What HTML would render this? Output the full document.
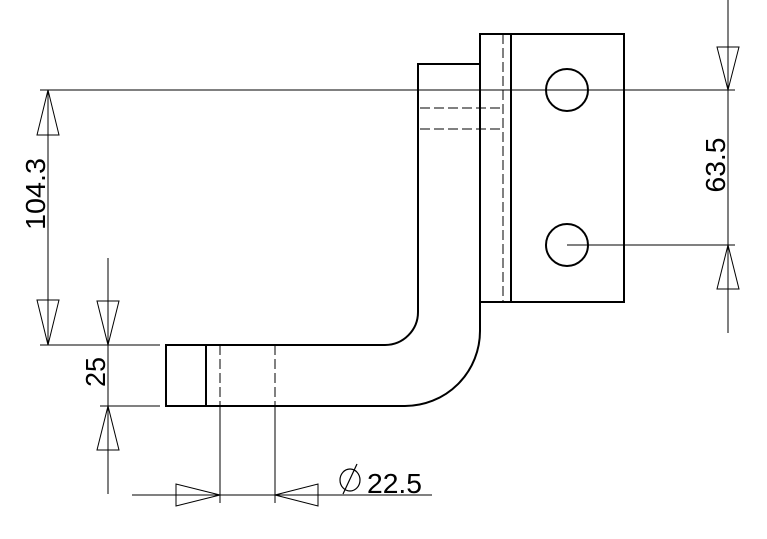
<!DOCTYPE html>
<html><head><style>html,body{margin:0;padding:0;background:#fff}</style></head><body>
<svg width="767" height="534" viewBox="0 0 767 534" xmlns="http://www.w3.org/2000/svg" font-family="Liberation Sans, sans-serif">
<g fill="none" stroke="#000" stroke-width="1">
<line x1="40" y1="90" x2="735" y2="90"/>
<line x1="567" y1="245" x2="735" y2="245"/>
<line x1="728" y1="0" x2="728" y2="333"/>
<line x1="48" y1="90" x2="48" y2="345"/>
<line x1="40" y1="345" x2="160" y2="345"/>
<line x1="100" y1="406" x2="160" y2="406"/>
<line x1="108" y1="258" x2="108" y2="494"/>
<line x1="220" y1="406" x2="220" y2="503"/>
<line x1="275" y1="406" x2="275" y2="503"/>
<line x1="132" y1="495" x2="432" y2="495"/>
<polygon points="728,90 717,47 739,47"/>
<polygon points="728,245 717,289 739,289"/>
<polygon points="48,90 37,135 59,135"/>
<polygon points="48,345 37,300 59,300"/>
<polygon points="108,345 97,301 119,301"/>
<polygon points="108,406 97,450 119,450"/>
<polygon points="220,495 176,484 176,506"/>
<polygon points="275,495 318,484 318,506"/>
</g>
<g fill="none" stroke="#000" stroke-width="2">
<rect x="480" y="34" width="144" height="268"/>
<line x1="511" y1="34" x2="511" y2="302"/>
<circle cx="567" cy="90" r="21"/>
<circle cx="567" cy="245" r="21"/>
<path d="M480 64 H418 V312 A33 33 0 0 1 385 345 H166 V406 H405 A75 75 0 0 0 480 331 V302"/>
<line x1="206" y1="345" x2="206" y2="406"/>
</g>
<g fill="none" stroke="#000" stroke-width="1" stroke-dasharray="10,4">
<line x1="503" y1="34" x2="503" y2="302"/>
<line x1="420" y1="108" x2="503" y2="108"/>
<line x1="420" y1="129" x2="503" y2="129"/>
<line x1="220" y1="345" x2="220" y2="406"/>
<line x1="275" y1="345" x2="275" y2="406"/>
</g>
<text x="0" y="0" font-size="28" text-anchor="middle" textLength="55" lengthAdjust="spacingAndGlyphs" transform="translate(725,165) rotate(-90)">63.5</text>
<text x="0" y="0" font-size="28" text-anchor="middle" textLength="72" lengthAdjust="spacingAndGlyphs" transform="translate(45,194) rotate(-90)">104.3</text>
<text x="0" y="0" font-size="28" text-anchor="middle" textLength="30" lengthAdjust="spacingAndGlyphs" transform="translate(105,372) rotate(-90)">25</text>
<g stroke="#000" stroke-width="1.2" fill="none"><ellipse cx="350" cy="480" rx="10" ry="11"/><line x1="343" y1="494" x2="357" y2="464"/></g>
<text x="367" y="493" font-size="28" textLength="55" lengthAdjust="spacingAndGlyphs">22.5</text>
</svg>
</body></html>
